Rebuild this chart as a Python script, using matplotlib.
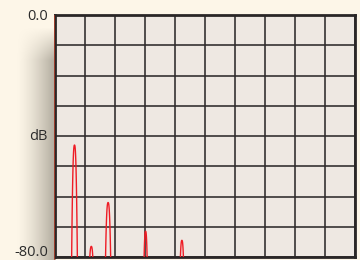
import numpy as np
import matplotlib
matplotlib.use("Agg")
import matplotlib.pyplot as plt

# ---- data ----
y_tick_labels = ["0.0", "dB", "-80.0"]
y_min, y_max = -80.0, 0.0
n_cols, n_rows = 10, 8
peak_pos = [0.65, 1.21, 1.77, 3.02, 4.23]          # x position in grid units
peak_level = [-43.0, -76.5, -62.0, -71.5, -74.5]   # dB
peak_halfwidth = [0.095, 0.05, 0.085, 0.05, 0.05]

W, H, DPI = 360, 260, 100
fig = plt.figure(figsize=(W / DPI, H / DPI), dpi=DPI, facecolor="#FDF6E8")

def px(x0, y0, x1, y1):
    return [x0 / W, 1 - y1 / H, (x1 - x0) / W, (y1 - y0) / H]

# shadow on the left of the panel
sh = fig.add_axes(px(16, 22, 55, 260), zorder=0)
sh.set_axis_off()
nx, ny = 80, 200
xx = np.linspace(0, 1, nx)[None, :]
yy = np.linspace(0, 1, ny)[:, None]
alpha = (xx ** 1.4) * 0.62 * np.clip((yy - 0.02) / 0.14, 0, 1)
img = np.zeros((ny, nx, 4))
img[..., 0] = 0.50
img[..., 1] = 0.48
img[..., 2] = 0.43
img[..., 3] = alpha
sh.imshow(img, aspect="auto", extent=[0, 1, 1, 0], interpolation="bilinear")
sh.set_xlim(0, 1)
sh.set_ylim(1, 0)

ax = fig.add_axes(px(55, 15, 355, 257), zorder=2)
ax.set_facecolor("#EEE8E2")
ax.set_xlim(0, n_cols)
ax.set_ylim(y_min, y_max)
ax.set_xticks(np.arange(0, n_cols + 1))
ax.set_yticks(np.linspace(y_min, y_max, n_rows + 1))
ax.grid(True, color="#2E2A2A", linewidth=1.15)
ax.tick_params(length=0, labelbottom=False, labelleft=False)
ax.set_axisbelow(True)
for s in ax.spines.values():
    s.set_color("#2A2626")
    s.set_linewidth(2.0)

for c, lv, hw in zip(peak_pos, peak_level, peak_halfwidth):
    u = np.linspace(-1, 1, 81)
    xs = c + hw * u
    ys = lv - (lv - y_min) * np.abs(u) ** 2.5
    ax.plot(xs, ys, color="#EE1C25", linewidth=1.0, solid_capstyle="butt", zorder=3)

# red accent on left edge
fig.add_artist(plt.Line2D([53.6 / W, 53.6 / W], [1 - 15 / H, 0], color="#B8402A",
                          linewidth=0.55, transform=fig.transFigure, zorder=3))

font = ["Open Sans", "DejaVu Sans"]
label_y = [16, 136, 253]
for t, y in zip(y_tick_labels, label_y):
    fig.text(48 / W, 1 - y / H, t, ha="right", va="center", fontsize=10.5,
             family=font, color="#2B2B2B")

fig.savefig("out.png", dpi=DPI, facecolor=fig.get_facecolor())
